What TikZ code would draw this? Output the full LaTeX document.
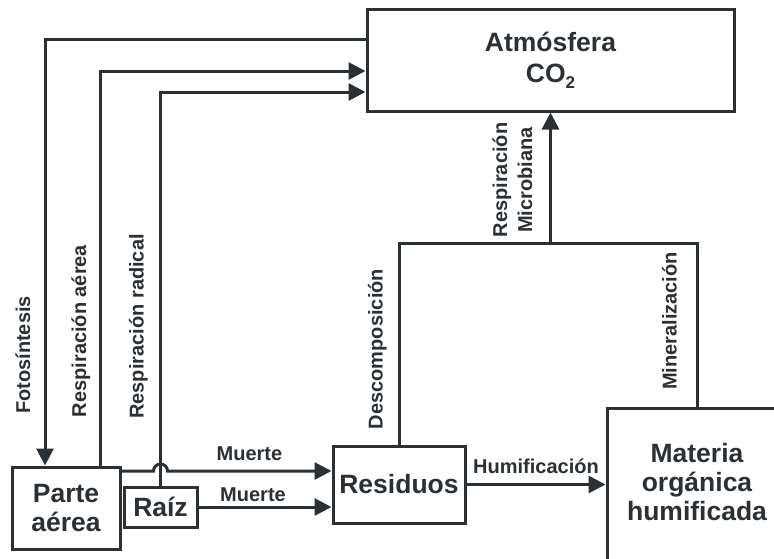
\documentclass[tikz,border=0pt]{standalone}
\usepackage{fontspec}
\setmainfont{Liberation Sans}
\usetikzlibrary{arrows.meta,calc}
\definecolor{ink}{RGB}{42,48,52}
\begin{document}
\begin{tikzpicture}[x=1pt,y=-1pt,
  box/.style={draw=ink, line width=3pt, rectangle, inner sep=0pt, align=center, text=ink,
    font=\bfseries\fontsize{26.5}{29}\selectfont},
  flow/.style={draw=ink, line width=3pt},
  arr/.style={flow, -{Triangle[length=17pt,width=17pt]}},
  hlbl/.style={text=ink, font=\bfseries\fontsize{20}{24}\selectfont, inner sep=0pt, anchor=base},
  vlbl/.style={text=ink, font=\bfseries\fontsize{20}{25}\selectfont, inner sep=0pt, anchor=base, rotate=90, align=center},
]
\useasboundingbox (0,0) rectangle (774,558);
\clip (0,0) rectangle (774,558);
\fill[white] (0,0) rectangle (774,558);

% boxes
\node[box, minimum width=367pt, minimum height=102pt, font=\bfseries\fontsize{26.5}{31}\selectfont] (atm) at (550.5,60) {Atmósfera\\CO\raisebox{-6pt}{\fontsize{17}{17}\selectfont 2}};
\node[box, minimum width=108pt, minimum height=82pt] (parte) at (66,508) {Parte\\aérea};
\node[box, minimum width=73pt, minimum height=40pt] (raiz) at (160.5,507) {Raíz};
\node[box, minimum width=132pt, minimum height=77pt] (res) at (399,484.5) {Residuos};
\node[box, minimum width=180pt, minimum height=170pt, text depth=22pt] (mat) at (697,493) {Materia\\orgánica\\humificada};

% plant - atmosphere exchanges
\draw[arr] ([yshift=21pt]atm.west) -| ([xshift=-21pt]parte.north);
\draw[arr] ([xshift=34pt]parte.north) |- ([yshift=-11pt]atm.west);
\draw[arr] (raiz.north) |- ([yshift=-32pt]atm.west);

% death flows
\coordinate (m1) at ([yshift=37pt]parte.east);
\draw[arr] (m1) -- ($(raiz.north |- m1)+(-7,0)$) arc[start angle=180, end angle=0, radius=7pt]
  -- (res.west |- m1) node[hlbl, pos=0.5, yshift=11pt] (lm1) {Muerte};
\draw[arr] (raiz.east) -- (res.west |- raiz.east) node[hlbl, pos=0.41, yshift=6pt] (lm2) {Muerte};

% humification
\draw[arr] (res.east) -- (mat.west |- res.east) node[hlbl, midway, yshift=11.5pt] (lhum) {Humificación};

% decomposition / mineralization / microbial respiration
\coordinate (j) at (550.5,243);
\draw[flow] (res.north) |- (j) -| (mat.north);
\draw[arr] (j) -- (atm.south);

% rotated labels
\node[vlbl] (lfoto) at (30,355) {Fotosíntesis};
\node[vlbl] (laer) at (86,331) {Respiración aérea};
\node[vlbl] (lrad) at (143.5,326.5) {Respiración radical};
\node[vlbl] (ldes) at (382.5,349) {Descomposición};
\node[vlbl] (lmin) at (676.5,321) {Mineralización};
\node[vlbl, anchor=center] (lmic) at (512.5,180) {Respiración\\Microbiana};
\end{tikzpicture}
\end{document}
